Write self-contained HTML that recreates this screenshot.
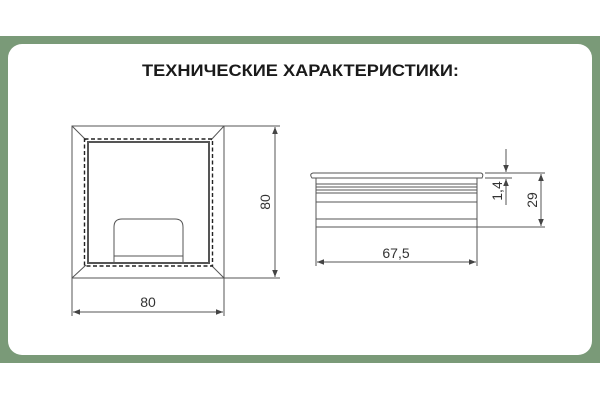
<!DOCTYPE html>
<html><head><meta charset="utf-8"><style>
html,body{margin:0;padding:0;background:#fff;}
svg{display:block;}
</style></head><body>
<svg width="600" height="400" viewBox="0 0 600 400" xmlns="http://www.w3.org/2000/svg">
<defs>
<marker id="a" viewBox="0 0 10 10" refX="10" refY="5" markerWidth="7" markerHeight="7" orient="auto-start-reverse" markerUnits="userSpaceOnUse"><path d="M0,1 L10,5 L0,9 z" fill="#444"/></marker>
</defs>
<rect x="0" y="0" width="600" height="400" fill="#fff"/>
<rect x="0" y="36" width="600" height="327" fill="#7a9a78"/>
<rect x="8" y="44" width="584" height="311" rx="14" fill="#fff"/>
<text x="300.5" y="76" text-anchor="middle" font-family="Liberation Sans, DejaVu Sans, sans-serif" font-weight="bold" font-size="17" textLength="317" lengthAdjust="spacingAndGlyphs" fill="#1a1a1a">ТЕХНИЧЕСКИЕ ХАРАКТЕРИСТИКИ:</text>

<g stroke="#555" fill="none" stroke-width="1">
<rect x="72" y="126" width="152" height="152"/>
<line x1="72" y1="126" x2="86" y2="140"/><line x1="224" y1="126" x2="211" y2="140"/>
<line x1="72" y1="278" x2="86" y2="265"/><line x1="224" y1="278" x2="211" y2="265"/>
<rect x="84.5" y="139" width="128" height="127" stroke-dasharray="4,2.5" stroke="#222" stroke-width="1.4"/>
<rect x="88" y="142" width="121" height="121" stroke="#555" stroke-width="2"/>
<path d="M114,263 V227 Q114,219 122,219 H175 Q183,219 183,227 V263" stroke="#555"/>
<line x1="114" y1="256" x2="183" y2="256"/>
<line x1="224" y1="126" x2="280" y2="126"/><line x1="224" y1="278" x2="280" y2="278"/>
<line x1="275" y1="127" x2="275" y2="277" marker-start="url(#a)" marker-end="url(#a)"/>
<line x1="72" y1="278" x2="72" y2="316"/><line x1="224" y1="278" x2="224" y2="316"/>
<line x1="73" y1="312" x2="223" y2="312" marker-start="url(#a)" marker-end="url(#a)"/>
<path d="M313,173 H481 Q484,174 482,178 H312 Q309,174 313,173 Z"/>
<rect x="316" y="178" width="161" height="49"/>
<line x1="316" y1="184" x2="477" y2="184"/><line x1="316" y1="187" x2="477" y2="187"/>
<line x1="316" y1="190" x2="477" y2="190"/><line x1="316" y1="193" x2="477" y2="193"/>
<line x1="316" y1="202" x2="477" y2="202"/><line x1="316" y1="219" x2="477" y2="219"/>
<line x1="485" y1="173" x2="545" y2="173"/><line x1="485" y1="178" x2="512" y2="178"/>
<line x1="477" y1="227" x2="545" y2="227"/>
<line x1="506" y1="149" x2="506" y2="172" marker-end="url(#a)"/>
<line x1="506" y1="205" x2="506" y2="179" marker-end="url(#a)"/>
<line x1="541" y1="174" x2="541" y2="226" marker-start="url(#a)" marker-end="url(#a)"/>
<line x1="316" y1="227" x2="316" y2="266"/><line x1="477" y1="227" x2="477" y2="266"/>
<line x1="317" y1="262" x2="476" y2="262" marker-start="url(#a)" marker-end="url(#a)"/>
</g>
<g font-family="Liberation Sans, DejaVu Sans, sans-serif" font-size="14" fill="#333" text-anchor="middle">
<text x="148" y="307">80</text>
<text transform="translate(270,202) rotate(-90)">80</text>
<text x="396" y="258">67,5</text>
<text transform="translate(502,191) rotate(-90)">1,4</text>
<text transform="translate(537,200) rotate(-90)">29</text>
</g>
</svg>
</body></html>
